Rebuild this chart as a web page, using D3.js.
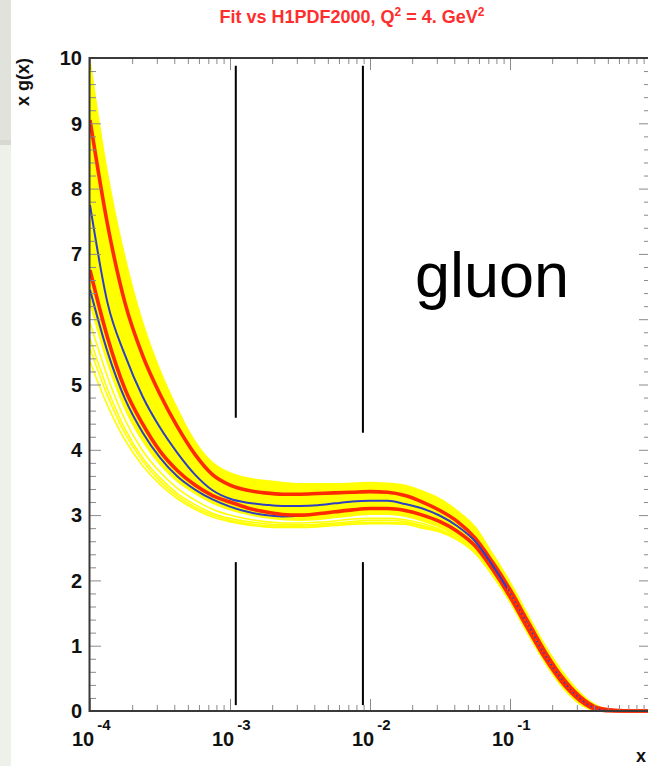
<!DOCTYPE html>
<html>
<head>
<meta charset="utf-8">
<script src="https://cdn.jsdelivr.net/npm/d3@7/dist/d3.min.js"></script>
<style>
  html, body { margin: 0; padding: 0; background: #ffffff; }
  svg { display: block; font-family: "Liberation Sans", Arial, Helvetica, sans-serif; }
</style>
</head>
<body>
<svg id="chart" width="648" height="766"></svg>
<script>
// Sample points in x (log spaced, 8 per decade)
const xSamples = [
  1.000e-4, 1.334e-4, 1.778e-4, 2.371e-4, 3.162e-4, 4.217e-4, 5.623e-4, 7.499e-4,
  1.000e-3, 1.334e-3, 1.778e-3, 2.371e-3, 3.162e-3, 4.217e-3, 5.623e-3, 7.499e-3,
  1.000e-2, 1.334e-2, 1.778e-2, 2.371e-2, 3.162e-2, 4.217e-2, 5.623e-2, 7.499e-2,
  1.000e-1, 1.334e-1, 1.778e-1, 2.371e-1, 3.162e-1, 4.217e-1, 5.623e-1, 7.499e-1,
  1.000
];

// Envelope of the fit replicas (yellow band)
const bandUpper = [10.05, 8.30, 7.00, 6.00, 5.25, 4.65, 4.15, 3.82, 3.66, 3.58, 3.54, 3.51, 3.49, 3.49, 3.49, 3.50, 3.51,
  3.50, 3.47, 3.38, 3.26, 3.08, 2.84, 2.43, 2.00, 1.51, 1.03, 0.62, 0.30, 0.09, 0.02, 0.00, 0.00];
const bandLower = [6.20, 5.30, 4.60, 4.12, 3.76, 3.50, 3.32, 3.17, 3.07, 3.00, 2.95, 2.92, 2.91, 2.92, 2.95, 2.98, 3.00,
  3.00, 2.97, 2.90, 2.80, 2.65, 2.43, 2.08, 1.67, 1.19, 0.74, 0.36, 0.11, 0.01, 0.00, 0.00, 0.00];

// Individual low-lying replicas
const replicaA = [5.95, 5.12, 4.46, 3.99, 3.66, 3.41, 3.23, 3.09, 3.00, 2.94, 2.90, 2.88, 2.88, 2.89, 2.91, 2.94, 2.95,
  2.95, 2.93, 2.87, 2.78, 2.64, 2.43, 2.09, 1.68, 1.20, 0.75, 0.37, 0.11, 0.01, 0.00, 0.00, 0.00];
const replicaB = [5.70, 4.93, 4.32, 3.88, 3.57, 3.33, 3.16, 3.03, 2.95, 2.90, 2.87, 2.85, 2.85, 2.86, 2.88, 2.90, 2.92,
  2.92, 2.90, 2.84, 2.76, 2.63, 2.43, 2.09, 1.68, 1.20, 0.75, 0.37, 0.11, 0.01, 0.00, 0.00, 0.00];
const replicaC = [5.55, 4.83, 4.25, 3.83, 3.52, 3.29, 3.12, 3.00, 2.92, 2.87, 2.84, 2.83, 2.83, 2.84, 2.86, 2.88, 2.89,
  2.89, 2.88, 2.82, 2.75, 2.62, 2.42, 2.08, 1.68, 1.20, 0.75, 0.37, 0.11, 0.01, 0.00, 0.00, 0.00];
const replicaD = [5.35, 4.68, 4.15, 3.76, 3.47, 3.25, 3.09, 2.97, 2.90, 2.85, 2.82, 2.81, 2.81, 2.82, 2.84, 2.86, 2.87,
  2.87, 2.86, 2.80, 2.74, 2.62, 2.42, 2.08, 1.68, 1.20, 0.75, 0.37, 0.11, 0.01, 0.00, 0.00, 0.00];

// H1PDF2000 error band (red) and central values (blue)
const redUpper = [9.05, 7.45, 6.25, 5.45, 4.85, 4.35, 3.93, 3.62, 3.46, 3.38, 3.34, 3.32, 3.32, 3.33, 3.34, 3.35, 3.36,
  3.35, 3.30, 3.20, 3.07, 2.90, 2.65, 2.28, 1.86, 1.38, 0.91, 0.51, 0.22, 0.05, 0.01, 0.00, 0.00];
const redLower = [6.75, 5.72, 4.93, 4.40, 3.98, 3.68, 3.46, 3.30, 3.20, 3.11, 3.05, 3.01, 3.00, 3.02, 3.05, 3.08, 3.10,
  3.10, 3.07, 3.00, 2.90, 2.75, 2.53, 2.17, 1.75, 1.27, 0.81, 0.43, 0.16, 0.02, 0.00, 0.00, 0.00];
const blueCentral = [7.75, 6.25, 5.45, 4.82, 4.34, 3.95, 3.62, 3.38, 3.25, 3.19, 3.16, 3.14, 3.14, 3.15, 3.18, 3.21, 3.22,
  3.22, 3.17, 3.10, 2.99, 2.83, 2.60, 2.23, 1.81, 1.33, 0.86, 0.47, 0.19, 0.03, 0.00, 0.00, 0.00];
const blueAlt = [6.45, 5.50, 4.78, 4.27, 3.88, 3.59, 3.39, 3.24, 3.13, 3.05, 3.00, 2.98, 2.99, 3.02, 3.05, 3.08, 3.10,
  3.10, 3.07, 3.00, 2.90, 2.75, 2.53, 2.17, 1.75, 1.27, 0.81, 0.43, 0.16, 0.02, 0.00, 0.00, 0.00];

// Vertical marker lines: x position, upper segment [top, bottom], lower segment [top, bottom]
const markerX = [0.0011, 0.0089];
const markerUpper = [[9.88, 4.49], [9.88, 4.26]];
const markerLower = [[2.28, 0.09], [2.28, 0.09]];

// Axis tick labels
const yTickValues = [0, 1, 2, 3, 4, 5, 6, 7, 8, 9, 10];
const yTickLabels = ["0", "1", "2", "3", "4", "5", "6", "7", "8", "9", "10"];
const xTickValues = [1e-4, 1e-3, 1e-2, 1e-1];
const xTickExponents = ["-4", "-3", "-2", "-1"];

const svg = d3.select("#chart");

// Slide background strip at the far left
svg.append("rect").attr("x", 0).attr("y", 0).attr("width", 11).attr("height", 766).attr("fill", "#eef0ea");
svg.append("rect").attr("x", 0).attr("y", 0).attr("width", 11).attr("height", 140).attr("fill", "#e2e2dd");
svg.append("rect").attr("x", 0).attr("y", 140).attr("width", 11).attr("height", 5).attr("fill", "#d6d9cf");

const frame = { left: 90, right: 650, top: 58, bottom: 711 };
const x = d3.scaleLog().domain([1e-4, 1]).range([frame.left, frame.right]);
const y = d3.scaleLinear().domain([0, 10]).range([frame.bottom, frame.top]);

const defs = svg.append("defs");
defs.append("clipPath").attr("id", "plotClip")
  .append("rect")
  .attr("x", frame.left).attr("y", frame.top)
  .attr("width", frame.right - frame.left).attr("height", frame.bottom - frame.top + 2);
// Central curve is drawn solid at low x and with point markers at high x
const splitX = x(0.095);
defs.append("clipPath").attr("id", "lowX")
  .append("rect").attr("x", frame.left).attr("y", frame.top)
  .attr("width", splitX - frame.left).attr("height", frame.bottom - frame.top + 2);
defs.append("clipPath").attr("id", "highX")
  .append("rect").attr("x", splitX).attr("y", frame.top)
  .attr("width", frame.right - splitX).attr("height", frame.bottom - frame.top + 2);

const plot = svg.append("g").attr("clip-path", "url(#plotClip)");

const line = d3.line().x((d, i) => x(xSamples[i])).y(d => y(d)).curve(d3.curveMonotoneX);
const area = d3.area()
  .x((d, i) => x(xSamples[i]))
  .y0((d, i) => y(bandLower[i]))
  .y1((d, i) => y(bandUpper[i]))
  .curve(d3.curveMonotoneX);

plot.append("path").datum(bandUpper).attr("d", area).attr("fill", "#ffff00");
[replicaA, replicaB, replicaC, replicaD].forEach(r => {
  plot.append("path").datum(r).attr("d", line)
    .attr("fill", "none").attr("stroke", "#ffff00").attr("stroke-width", 1.6);
});
plot.append("path").datum(blueAlt).attr("d", line)
  .attr("fill", "none").attr("stroke", "#2f3fc4").attr("stroke-width", 2);
[redUpper, redLower].forEach(r => {
  plot.append("path").datum(r).attr("d", line)
    .attr("fill", "none").attr("stroke", "#ff2a00").attr("stroke-width", 3.6);
});
plot.append("g").attr("clip-path", "url(#lowX)")
  .append("path").datum(blueCentral).attr("d", line)
  .attr("fill", "none").attr("stroke", "#2f3fc4").attr("stroke-width", 2);
plot.append("g").attr("clip-path", "url(#highX)")
  .append("path").datum(blueCentral).attr("d", line)
  .attr("fill", "none").attr("stroke", "#2f3fc4").attr("stroke-width", 1.6)
  .attr("stroke-dasharray", "1.5,3");

// Vertical marker lines
markerX.forEach((mx, i) => {
  [markerUpper[i], markerLower[i]].forEach(seg => {
    svg.append("line")
      .attr("x1", x(mx)).attr("x2", x(mx))
      .attr("y1", y(seg[0])).attr("y2", y(seg[1]))
      .attr("stroke", "#000").attr("stroke-width", 2);
  });
});

// Minor tick positions
const xMinor = [];
[1e-4, 1e-3, 1e-2, 1e-1].forEach(dec => { for (let k = 2; k <= 9; k++) xMinor.push(dec * k); });
const yMinor = d3.range(0, 10.01, 0.2).filter(v => Math.abs(v - Math.round(v)) > 1e-6);

const tickColor = "#8a8a8a";
const axisStyle = g => {
  g.select(".domain").remove();
  g.selectAll(".tick line").attr("stroke", tickColor).attr("stroke-width", 1);
  g.selectAll(".tick text").remove();
};

svg.append("g").attr("transform", `translate(0,${frame.bottom})`)
  .call(d3.axisBottom(x).tickValues(xTickValues).tickSize(-12)).call(axisStyle);
svg.append("g").attr("transform", `translate(0,${frame.bottom})`)
  .call(d3.axisBottom(x).tickValues(xMinor).tickSize(-6)).call(axisStyle);
svg.append("g").attr("transform", `translate(0,${frame.top})`)
  .call(d3.axisTop(x).tickValues(xTickValues).tickSize(-12)).call(axisStyle);
svg.append("g").attr("transform", `translate(0,${frame.top})`)
  .call(d3.axisTop(x).tickValues(xMinor).tickSize(-6)).call(axisStyle);
svg.append("g").attr("transform", `translate(${frame.left},0)`)
  .call(d3.axisLeft(y).tickValues(yTickValues).tickSize(-11)).call(axisStyle);
svg.append("g").attr("transform", `translate(${frame.left},0)`)
  .call(d3.axisLeft(y).tickValues(yMinor).tickSize(-6)).call(axisStyle);
svg.append("g").attr("transform", `translate(${frame.right},0)`)
  .call(d3.axisRight(y).tickValues(yTickValues).tickSize(-11)).call(axisStyle);
svg.append("g").attr("transform", `translate(${frame.right},0)`)
  .call(d3.axisRight(y).tickValues(yMinor).tickSize(-6)).call(axisStyle);

// Frame
svg.append("rect")
  .attr("x", frame.left - 0.5).attr("y", frame.top)
  .attr("width", frame.right - frame.left).attr("height", frame.bottom - frame.top)
  .attr("fill", "none").attr("stroke", "#3a3a3a").attr("stroke-width", 2);

// Y tick labels
svg.append("g").selectAll("text").data(yTickValues).join("text")
  .attr("x", 82).attr("y", d => y(d)).attr("dy", "0.36em")
  .attr("text-anchor", "end").attr("font-size", 20).attr("font-weight", "bold").attr("fill", "#111")
  .text((d, i) => yTickLabels[i]);

// X tick labels (powers of ten)
const xl = svg.append("g").selectAll("text").data(xTickValues).join("text")
  .attr("x", d => x(d) - 18).attr("y", 746)
  .attr("font-size", 20).attr("font-weight", "bold").attr("fill", "#111");
xl.append("tspan").text("10");
xl.append("tspan").attr("dx", 3).attr("dy", -16).attr("font-size", 15).text((d, i) => xTickExponents[i]);

// Axis titles
svg.append("text").attr("transform", "translate(29,58) rotate(-90)")
  .attr("text-anchor", "end").attr("font-size", 18).attr("font-weight", "bold").attr("fill", "#111")
  .text("x g(x)");
svg.append("text").attr("x", 636).attr("y", 762)
  .attr("font-size", 18).attr("font-weight", "bold").attr("fill", "#111").text("x");

// Title
const title = svg.append("text").attr("x", 352).attr("y", 23).attr("text-anchor", "middle")
  .attr("font-size", 18).attr("font-weight", "bold").attr("fill", "#ff2e2e");
title.append("tspan").text("Fit vs H1PDF2000, Q");
title.append("tspan").attr("dy", -7).attr("font-size", 12).text("2");
title.append("tspan").attr("dy", 7).text(" = 4. GeV");
title.append("tspan").attr("dy", -7).attr("font-size", 12).text("2");

// Panel label
svg.append("text").attr("x", 415).attr("y", 297)
  .attr("font-size", 63).attr("fill", "#000").text("gluon");
</script>
</body>
</html>
